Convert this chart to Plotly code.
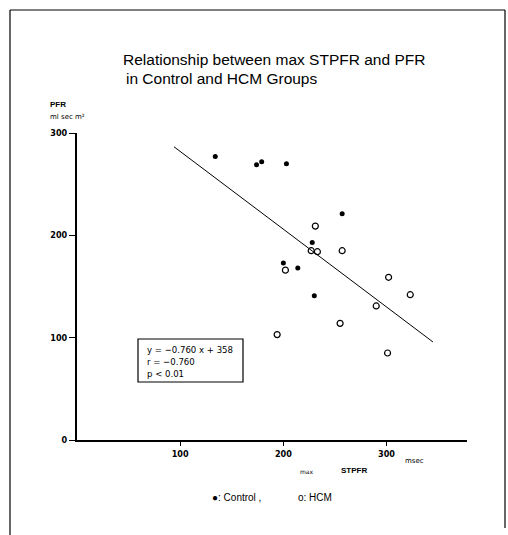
import plotly.graph_objects as go

# ---- data ----
control_x = [134, 174, 179, 203, 257, 228, 200, 214, 230]
control_y = [277, 269, 272, 270, 221, 193, 173, 168, 141]
hcm_x = [231, 227, 233, 257, 202, 302, 323, 290, 255, 194, 301]
hcm_y = [209, 185, 184, 185, 166, 159, 142, 131, 114, 103, 85]
slope, intercept = -0.760, 358
line_x = [94, 345]
line_y = [slope * v + intercept for v in line_x]
x_ticks = [100, 200, 300]
y_ticks = [0, 100, 200, 300]

W, H = 508, 535
L, R, T, B = 77, 467, 133, 440


def px(x):
    return (x - L) / (R - L)


def py(y):
    return (B - y) / (B - T)


fig = go.Figure()
fig.add_trace(go.Scatter(x=line_x, y=line_y, mode="lines",
                         line=dict(color="black", width=1), showlegend=False,
                         cliponaxis=False))
fig.add_trace(go.Scatter(x=control_x, y=control_y, mode="markers",
                         marker=dict(symbol="circle", size=5, color="black"),
                         showlegend=False, cliponaxis=False))
fig.add_trace(go.Scatter(x=hcm_x, y=hcm_y, mode="markers",
                         marker=dict(symbol="circle-open", size=6, color="black",
                                     line=dict(width=1.2)),
                         showlegend=False, cliponaxis=False))

tickfont = dict(family="DejaVu Sans Condensed, Liberation Sans Narrow, Arial", size=9, color="black",
                weight="bold")

fig.update_xaxes(range=[0, 378], tickvals=x_ticks, ticktext=[str(v) for v in x_ticks],
                 showgrid=False, zeroline=False, showline=True, linecolor="black", linewidth=2,
                 ticks="outside", ticklen=4, tickwidth=1, tickcolor="black",
                 tickfont=tickfont)
fig.update_yaxes(range=[0, 300], tickvals=y_ticks, ticktext=[str(v) for v in y_ticks],
                 showgrid=False, zeroline=False, showline=True, linecolor="black", linewidth=2,
                 ticks="outside", ticklen=6, tickwidth=1, tickcolor="black",
                 tickfont=tickfont)

ann = []
title_font = dict(family="Liberation Sans, Arial", size=15.5, color="black")
ann.append(dict(text="Relationship between max STPFR and PFR", x=px(121), y=py(60),
                xanchor="left", yanchor="middle", font=title_font))
ann.append(dict(text="in Control and HCM Groups", x=px(124), y=py(79),
                xanchor="left", yanchor="middle", font=title_font))
small = dict(family="Liberation Sans, Arial", size=8, color="black")
ann.append(dict(text="<b>PFR</b>", x=px(48), y=py(105), xanchor="left", yanchor="middle", font=small))
ann.append(dict(text="ml sec m²", x=px(48), y=py(117), xanchor="left", yanchor="middle",
                font=dict(family="DejaVu Sans, Arial", size=7, color="black")))
ann.append(dict(text="msec", x=px(403), y=py(461), xanchor="left", yanchor="middle",
                font=dict(family="DejaVu Sans, Arial", size=7, color="black")))
ann.append(dict(text="max", x=px(307), y=py(471), xanchor="center", yanchor="middle",
                font=dict(family="DejaVu Sans, Arial", size=6, color="black")))
ann.append(dict(text="<b>STPFR</b>", x=px(354), y=py(470), xanchor="center", yanchor="middle",
                font=dict(family="Liberation Sans, Arial", size=8, color="black")))
ann.append(dict(text="●: Control ,", x=px(210), y=py(497), xanchor="left", yanchor="middle",
                font=dict(family="Liberation Sans, Arial", size=10, color="black")))
ann.append(dict(text="o: HCM", x=px(296), y=py(497), xanchor="left", yanchor="middle",
                font=dict(family="Liberation Sans, Arial", size=10, color="black")))
box_font = dict(family="DejaVu Sans Condensed, Liberation Sans Narrow, Arial", size=9.5, color="black")
for t, yy in [("y = −0.760 x + 358", 349), ("r = −0.760", 361), ("p < 0.01", 373)]:
    ann.append(dict(text=t, x=px(145), y=py(yy), xanchor="left", yanchor="middle", font=box_font))
for a in ann:
    a.update(xref="paper", yref="paper", showarrow=False)

shapes = [
    dict(type="rect", xref="paper", yref="paper", x0=px(138), x1=px(243), y0=py(339), y1=py(382),
         line=dict(color="black", width=1.2)),
    dict(type="line", xref="paper", yref="paper", x0=px(10), x1=px(10), y0=py(10), y1=py(535),
         line=dict(color="black", width=1.2)),
    dict(type="line", xref="paper", yref="paper", x0=px(10), x1=px(505), y0=py(10), y1=py(10),
         line=dict(color="black", width=1.2)),
    dict(type="line", xref="paper", yref="paper", x0=px(505), x1=px(505), y0=py(10), y1=py(528),
         line=dict(color="black", width=1.2)),
]

fig.update_layout(width=W, height=H, margin=dict(l=L, r=W - R, t=T, b=H - B),
                  paper_bgcolor="white", plot_bgcolor="white",
                  annotations=ann, shapes=shapes, showlegend=False)

fig.write_html("out.html")
